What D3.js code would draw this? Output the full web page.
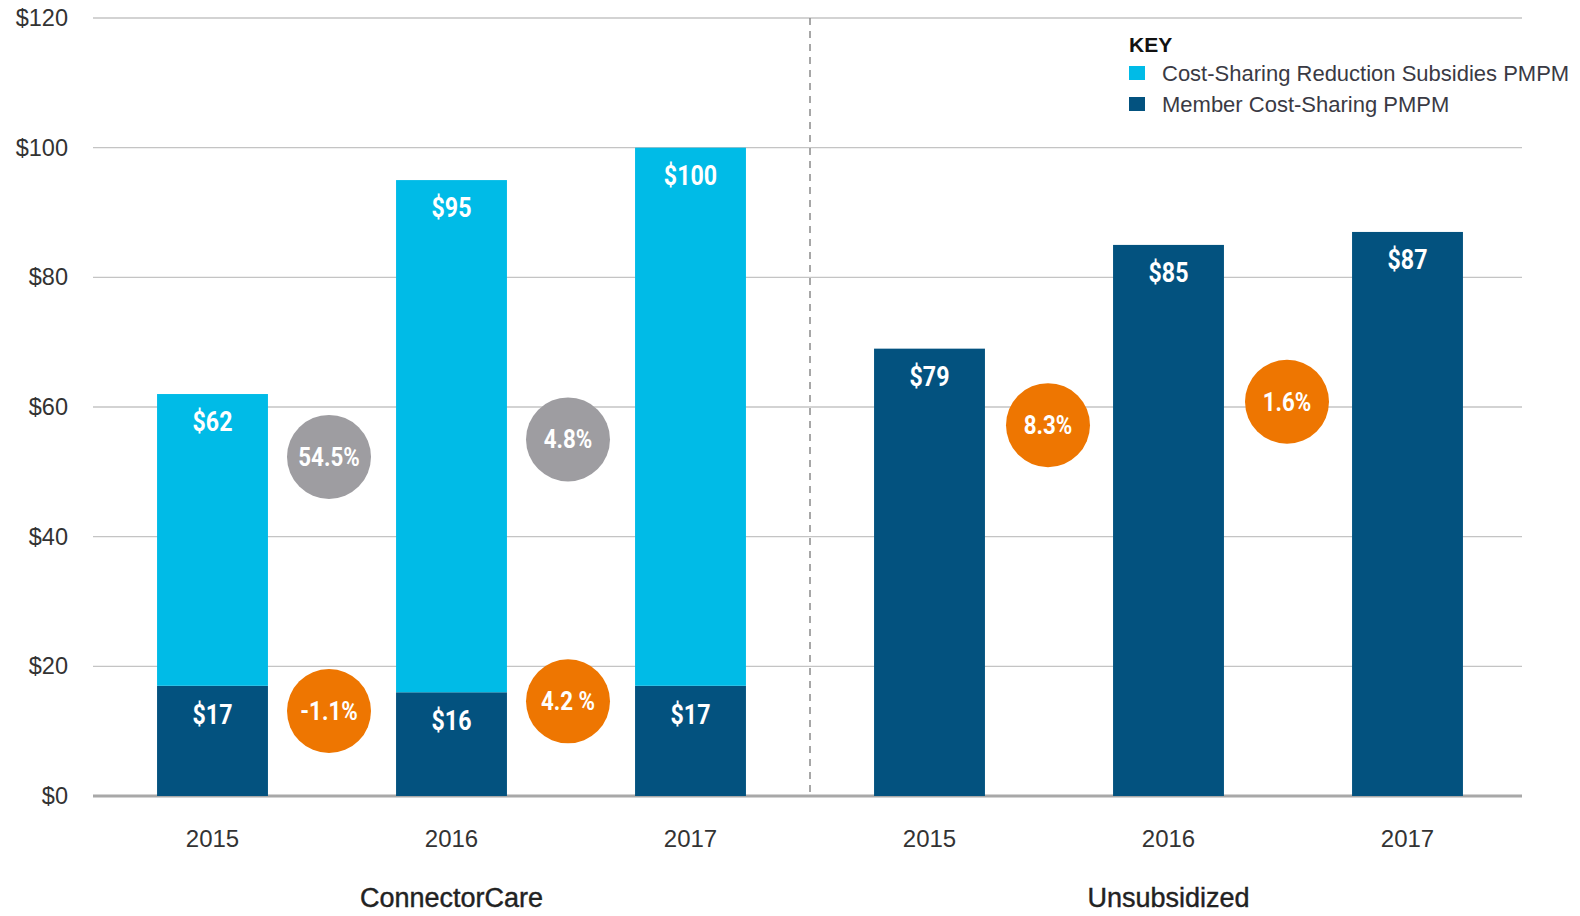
<!DOCTYPE html>
<html>
<head>
<meta charset="utf-8">
<script src="https://cdn.jsdelivr.net/npm/d3@7"></script>
<style>
  body { margin: 0; background: #fff; }
  text { font-family: "Liberation Sans", Arial, sans-serif; }
  .num { font-family: Roboto, "Liberation Sans", sans-serif; font-weight: bold; fill: #fff; }
</style>
</head>
<body>
<div id="chart"></div>
<script>
// bars, left to right
var keys = ["cc2015", "cc2016", "cc2017", "un2015", "un2016", "un2017"];
var years = ["2015", "2016", "2017", "2015", "2016", "2017"];
var groups = ["ConnectorCare", "Unsubsidized"];
var memberValues = [17, 16, 17, 69, 85, 87];     // Member Cost-Sharing PMPM (drawn height)
var subsidyValues = [45, 79, 83, 0, 0, 0];        // Cost-Sharing Reduction Subsidies PMPM
var topLabels = ["$62", "$95", "$100", "$79", "$85", "$87"];
var memberLabels = ["$17", "$16", "$17", "", "", ""];

// change bubbles, sitting between bar i and bar i+1
var bubbleLabels = ["54.5%", "4.8%", "-1.1%", "4.2 %", "8.3%", "1.6%"];
var bubbleAfter = [0, 1, 0, 1, 3, 4];
var bubbleY = [52.3, 55.0, 13.1, 14.6, 57.2, 60.8];
var bubbleType = ["subsidy", "subsidy", "member", "member", "member", "member"];

var yTicks = [0, 20, 40, 60, 80, 100, 120];
var legendItems = ["Cost-Sharing Reduction Subsidies PMPM", "Member Cost-Sharing PMPM"];

var W = 1580, H = 916;
var light = "#00bbe7", dark = "#03527f", orange = "#ee7601", grey = "#9e9da1";

var svg = d3.select("#chart").append("svg")
  .attr("width", W)
  .attr("height", H);

var x = d3.scaleBand()
  .domain(keys)
  .range([93, 1527])
  .paddingInner(0.536)
  .paddingOuter(0.268);

var y = d3.scaleLinear()
  .domain([0, 120])
  .range([796, 18]);

// gridlines + y labels
svg.append("g")
  .selectAll("line")
  .data(yTicks)
  .enter().append("line")
    .attr("x1", 93).attr("x2", 1522)
    .attr("y1", function(d) { return y(d); })
    .attr("y2", function(d) { return y(d); })
    .attr("stroke", function(d) { return d === 0 ? "#a8a8a8" : "#c4c4c4"; })
    .attr("stroke-width", function(d) { return d === 0 ? 3 : 1.3; });

svg.append("g")
  .selectAll("text")
  .data(yTicks)
  .enter().append("text")
    .attr("x", 68)
    .attr("y", function(d) { return y(d) + 8; })
    .attr("text-anchor", "end")
    .attr("font-size", 23.5)
    .attr("fill", "#333")
    .text(function(d) { return "$" + d; });

// divider between the two groups
var mid = (x(keys[2]) + x.bandwidth() + x(keys[3])) / 2;
svg.append("line")
  .attr("x1", mid).attr("x2", mid)
  .attr("y1", y(120)).attr("y2", y(0))
  .attr("stroke", "#8a8a8a")
  .attr("stroke-width", 1.5)
  .attr("stroke-dasharray", "7,6");

// member portion
svg.append("g")
  .selectAll("rect")
  .data(keys)
  .enter().append("rect")
    .attr("x", function(d) { return x(d); })
    .attr("width", x.bandwidth())
    .attr("y", function(d, i) { return y(memberValues[i]); })
    .attr("height", function(d, i) { return y(0) - y(memberValues[i]); })
    .attr("fill", dark);

// subsidy portion stacked on top
svg.append("g")
  .selectAll("rect")
  .data(keys)
  .enter().append("rect")
    .attr("x", function(d) { return x(d); })
    .attr("width", x.bandwidth())
    .attr("y", function(d, i) { return y(memberValues[i] + subsidyValues[i]); })
    .attr("height", function(d, i) { return y(memberValues[i]) - y(memberValues[i] + subsidyValues[i]); })
    .attr("fill", light);

// value labels (narrowed to look condensed)
function numLabel(sel, px, py, txt, size) {
  sel.append("g")
    .attr("transform", "translate(" + px + "," + py + ") scale(0.86,1)")
    .append("text")
      .attr("class", "num")
      .attr("text-anchor", "middle")
      .attr("font-size", size)
      .text(txt);
}
var labels = svg.append("g");
keys.forEach(function(k, i) {
  var cx = x(k) + x.bandwidth() / 2;
  numLabel(labels, cx, y(memberValues[i] + subsidyValues[i]) + 37, topLabels[i], 27);
  if (memberLabels[i]) numLabel(labels, cx, y(memberValues[i]) + 38, memberLabels[i], 27);
});

// bubbles
function bubbleX(i) {
  var a = keys[bubbleAfter[i]], b = keys[bubbleAfter[i] + 1];
  return (x(a) + x(b) + x.bandwidth()) / 2 - (bubbleAfter[i] < 3 ? 3 : 1);
}
var bub = svg.append("g");
bubbleLabels.forEach(function(d, i) {
  var bx = bubbleX(i), by = y(bubbleY[i]);
  bub.append("circle")
    .attr("cx", bx).attr("cy", by)
    .attr("r", 42)
    .attr("fill", bubbleType[i] === "subsidy" ? grey : orange);
  numLabel(bub, bx, by + 9, d, 26);
});

// year labels
svg.append("g")
  .selectAll("text")
  .data(keys)
  .enter().append("text")
    .attr("x", function(d) { return x(d) + x.bandwidth() / 2; })
    .attr("y", 847)
    .attr("text-anchor", "middle")
    .attr("font-size", 24)
    .attr("fill", "#333")
    .text(function(d, i) { return years[i]; });

// group labels
svg.append("g")
  .selectAll("text")
  .data(groups)
  .enter().append("text")
    .attr("x", function(d, i) { return x(keys[i * 3 + 1]) + x.bandwidth() / 2; })
    .attr("y", 907)
    .attr("text-anchor", "middle")
    .attr("font-size", 27)
    .attr("fill", "#222")
    .attr("stroke", "#222")
    .attr("stroke-width", 0.4)
    .text(function(d) { return d; });

// legend
var lg = svg.append("g").attr("transform", "translate(1129,0)");
lg.append("text")
  .attr("x", 0).attr("y", 52)
  .attr("font-size", 21)
  .attr("font-weight", "bold")
  .attr("fill", "#111")
  .text("KEY");
var li = lg.selectAll("g.item")
  .data(legendItems)
  .enter().append("g")
    .attr("class", "item")
    .attr("transform", function(d, i) { return "translate(0," + (66 + i * 31) + ")"; });
li.append("rect")
  .attr("width", 16).attr("height", 14)
  .attr("fill", function(d, i) { return i === 0 ? light : dark; });
li.append("text")
  .attr("x", 33).attr("y", 15)
  .attr("font-size", 22)
  .attr("fill", "#3a3a44")
  .text(function(d) { return d; });
</script>
</body>
</html>
